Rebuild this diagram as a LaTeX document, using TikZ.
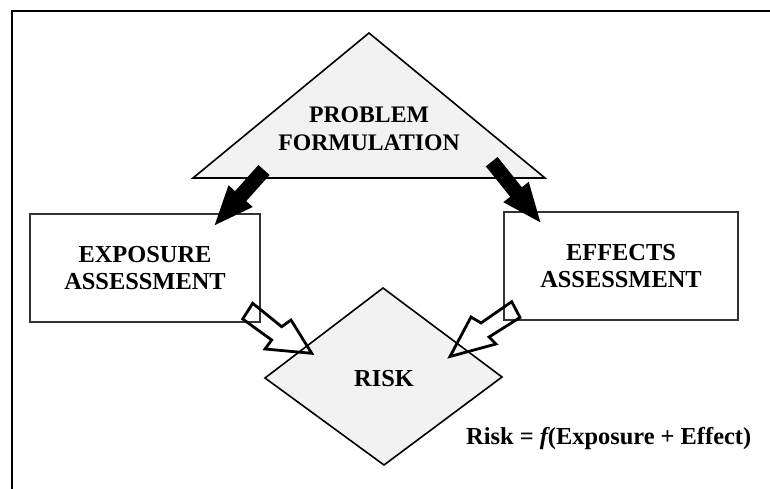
\documentclass[tikz,border=0pt]{standalone}
\usepackage{fontspec}
\setmainfont{Liberation Serif}
\usetikzlibrary{arrows.meta}
\begin{document}
\begin{tikzpicture}[x=1bp,y=-1bp,
  lbl/.style={font=\fontsize{24.5}{28}\selectfont\bfseries, align=center, inner sep=0pt},
  stepbox/.style={lbl, draw=black!80, line width=1.1bp, fill=white},
  shapeln/.style={draw=black, line width=1.6bp, fill=black!5, line join=miter},
  blk/.style={line width=15bp, -{Triangle[length=41bp,width=29bp]}},
  hollow/.style={draw=black, line width=2.8bp, line join=miter}
]
\useasboundingbox (0,0) rectangle (770,489);
% frame
\draw[line width=2.6bp] (770,11) -- (12,11) -- (12,489);
% problem formulation triangle
\draw[shapeln] (369,33) -- (545,178) -- (193,178) -- cycle;
\node[lbl, font=\fontsize{23.8}{28}\selectfont\bfseries] (pf) at (369,129) {PROBLEM\\FORMULATION};
% boxes
\node[stepbox, minimum width=230bp, minimum height=108bp] (ea) at (145,268) {EXPOSURE\\ASSESSMENT};
\node[stepbox, minimum width=234bp, minimum height=108bp] (fa) at (621,266) {EFFECTS\\ASSESSMENT};
% risk diamond
\draw[shapeln] (383,288) -- (502,377) -- (384,465) -- (265,378) -- cycle;
\node[lbl] (risk) at (384,379) {RISK};
\node[lbl, anchor=base west] (eq) at (466,444) {Risk = {\itshape f}(Exposure + Effect)};
% black arrows
\coordinate (pfl) at (264,170);
\coordinate (eain) at (213.3,226.7);
\coordinate (pfr) at (491.7,161.7);
\coordinate (fain) at (541.7,224);
\draw[blk] (pfl) -- (eain);
\draw[blk] (pfr) -- (fain);
% hollow arrows
\draw[hollow] (252.7,303.3) -- (281.7,326.7) -- (291,320) -- (311.7,353.3)
  -- (265,349) -- (271.7,340) -- (242.7,319) -- cycle;
\draw[hollow] (511.7,301.7) -- (481,323) -- (471,317) -- (450,356.5)
  -- (496,344) -- (489,337) -- (520,317.5) -- cycle;
\end{tikzpicture}
\end{document}
